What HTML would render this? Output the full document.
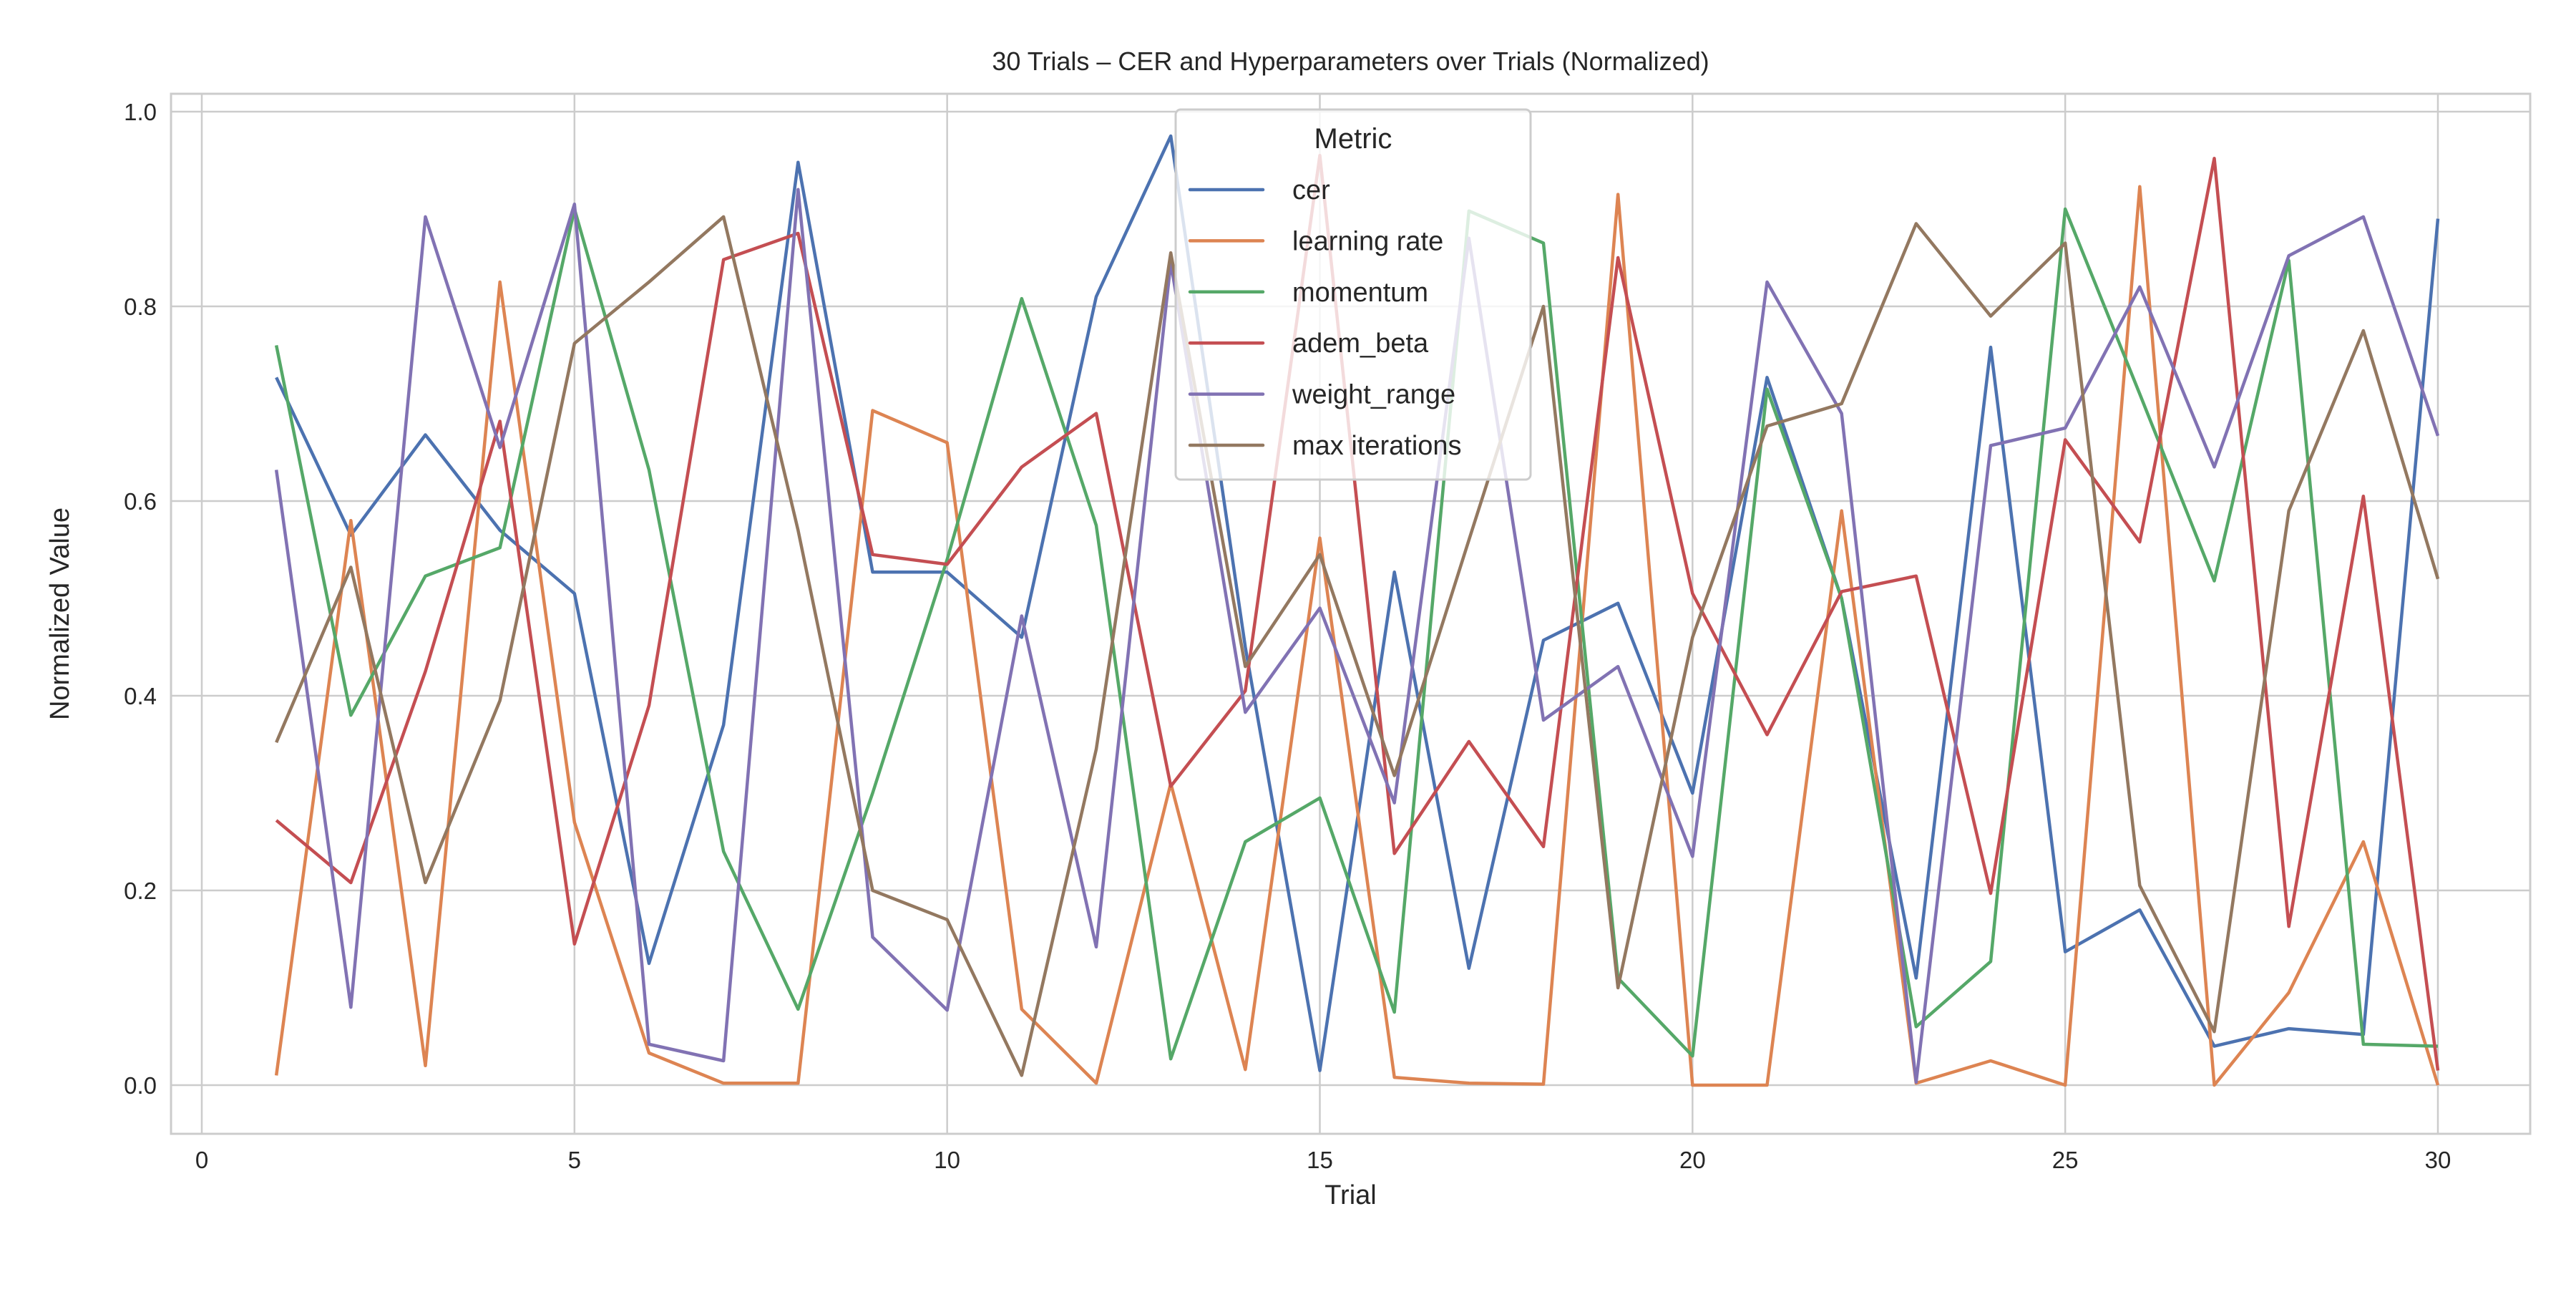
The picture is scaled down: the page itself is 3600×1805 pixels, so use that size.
<!DOCTYPE html>
<html><head><meta charset="utf-8"><style>
body{margin:0;background:#fff;}
svg text{font-family:"Liberation Sans",sans-serif;fill:#262626;}
</style></head><body>
<svg id="chart" width="3600" height="1800" xmlns="http://www.w3.org/2000/svg">
<rect width="3600" height="1800" fill="#fff"/>
<g id="grid"></g><g id="series"></g><g id="axes"></g><g id="legend"></g>
</svg>
<script>
const trials = Array.from({length:30},(_,i)=>i+1);
const seriesNames = ["cer","learning rate","momentum","adem_beta","weight_range","max iterations"];
const colors = ["#4c72b0","#dd8452","#55a868","#c44e52","#8172b3","#937860"];
const cer = [0.727,0.565,0.668,0.57,0.505,0.125,0.37,0.948,0.527,0.527,0.46,0.81,0.975,0.45,0.015,0.527,0.12,0.457,0.495,0.3,0.727,0.5,0.11,0.758,0.137,0.18,0.04,0.058,0.052,0.89];
const learningRate = [0.01,0.58,0.02,0.825,0.27,0.033,0.002,0.002,0.693,0.66,0.078,0.002,0.31,0.016,0.562,0.008,0.002,0.001,0.915,0.0,0.0,0.59,0.002,0.025,0.0,0.923,0.0,0.095,0.25,0.0];
const momentum = [0.76,0.38,0.523,0.552,0.9,0.632,0.24,0.078,0.3,0.54,0.808,0.575,0.027,0.25,0.295,0.075,0.898,0.865,0.11,0.03,0.715,0.5,0.06,0.127,0.9,0.71,0.518,0.847,0.042,0.04];
const ademBeta = [0.272,0.208,0.425,0.682,0.145,0.39,0.848,0.875,0.545,0.535,0.635,0.69,0.307,0.405,0.955,0.238,0.353,0.245,0.85,0.505,0.36,0.507,0.523,0.197,0.663,0.558,0.952,0.163,0.605,0.015];
const weightRange = [0.632,0.08,0.892,0.655,0.905,0.042,0.025,0.92,0.152,0.077,0.482,0.142,0.845,0.383,0.49,0.29,0.87,0.375,0.43,0.235,0.825,0.69,0.003,0.657,0.675,0.82,0.635,0.852,0.892,0.667];
const maxIterations = [0.352,0.532,0.208,0.395,0.762,0.825,0.892,0.57,0.2,0.17,0.01,0.345,0.855,0.43,0.545,0.318,0.56,0.8,0.1,0.46,0.677,0.7,0.885,0.79,0.865,0.205,0.055,0.59,0.775,0.52];
const xTicks = [0,5,10,15,20,25,30];
const yTicks = [0.0,0.2,0.4,0.6,0.8,1.0];
const allSeries = [cer,learningRate,momentum,ademBeta,weightRange,maxIterations];

const L=239,R=3536,T=131,B=1584;
const X0=282,XU=(3407-282)/30;
const Y0=1516,YU=(1516-156);
const xs=v=>X0+v*XU, ys=v=>Y0-v*YU;
const NS="http://www.w3.org/2000/svg";
function mk(tag,attrs,parent){const e=document.createElementNS(NS,tag);for(const k in attrs)e.setAttribute(k,attrs[k]);parent.appendChild(e);return e;}
const grid=document.getElementById('grid'),ser=document.getElementById('series'),ax=document.getElementById('axes'),lg=document.getElementById('legend');

xTicks.forEach(t=>{
 const l=mk('line',{x1:xs(t),x2:xs(t),y1:T,y2:B,stroke:'#cccccc','stroke-width':2.5},grid);
 
 
 const tx=mk('text',{x:xs(t),y:B+48,'text-anchor':'middle','font-size':33},ax);tx.textContent=t;
 
 
});
yTicks.forEach(t=>{
 const l=mk('line',{x1:L,x2:R,y1:ys(t),y2:ys(t),stroke:'#cccccc','stroke-width':2.5},grid);
 
 
 const tx=mk('text',{x:L-20,y:ys(t)+12,'text-anchor':'end','font-size':33},ax);tx.textContent=t.toFixed(1);
 
 
});
allSeries.forEach((vals,i)=>{
 const p=mk('polyline',{points:vals.map((v,j)=>xs(trials[j])+','+ys(v)).join(' '),fill:'none',stroke:colors[i],'stroke-width':4.5,'stroke-linejoin':'round'},ser);
 
 
});
const fr=mk('rect',{x:L,y:T,width:R-L,height:B-T,fill:'none',stroke:'#cccccc','stroke-width':3},ax);


const ti=mk('text',{x:(L+R)/2,y:98,'text-anchor':'middle','font-size':36},ax);ti.textContent='30 Trials – CER and Hyperparameters over Trials (Normalized)';


const xl=mk('text',{x:(L+R)/2,y:1682,'text-anchor':'middle','font-size':38},ax);xl.textContent='Trial';


const yl=mk('text',{x:0,y:0,'text-anchor':'middle','font-size':38,transform:'translate(96,'+((T+B)/2)+') rotate(-90)'},ax);yl.textContent='Normalized Value';



const box=mk('rect',{x:1643,y:153,width:496,height:517,rx:7,fill:'#fff','fill-opacity':0.8,stroke:'#cccccc','stroke-width':3},lg);


const lt=mk('text',{x:1891,y:207,'text-anchor':'middle','font-size':40},lg);lt.textContent='Metric';


seriesNames.forEach((n,i)=>{
 const y=265+i*71.4;
 const g=mk('g',{},lg);
 
 
 mk('line',{x1:1663,x2:1765,y1:y,y2:y,stroke:colors[i],'stroke-width':4.5,'stroke-linecap':'round'},g);
 const t=mk('text',{x:1806,y:y+13,'font-size':38},g);t.textContent=n;
});
</script>
</body></html>
